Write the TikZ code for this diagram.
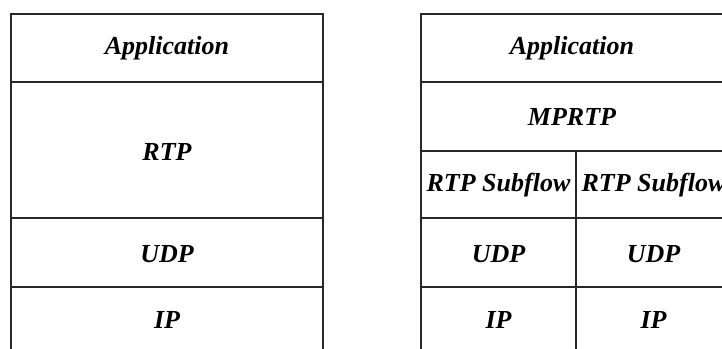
\documentclass[tikz,border=0pt]{standalone}
\usepackage{fontspec}
\setmainfont{Liberation Serif}
\tikzset{every picture/.style={line width=1.1pt}}
\tikzset{layer/.style={inner sep=0.75pt,font=\fontsize{19.5}{22}\selectfont\bfseries\itshape}}

\begin{document}
\begin{tikzpicture}[x=0.75pt,y=0.75pt,yscale=-1,xscale=1]
\useasboundingbox (0,0) rectangle (722,349);
\clip (0,0) rectangle (722,349);

%Left stack: RTP
\draw [color={rgb, 255:red, 40; green, 40; blue, 40 }] (11,352) -- (11,14) -- (323,14) -- (323,352) ;
%Straight Lines
\draw [color={rgb, 255:red, 40; green, 40; blue, 40 }] (11,82) -- (323,82) ;
\draw [color={rgb, 255:red, 40; green, 40; blue, 40 }] (11,218) -- (323,218) ;
\draw [color={rgb, 255:red, 40; green, 40; blue, 40 }] (11,287) -- (323,287) ;

%Right stack: MPRTP
\draw [color={rgb, 255:red, 40; green, 40; blue, 40 }] (421,352) -- (421,14) -- (730,14) ;
%Straight Lines
\draw [color={rgb, 255:red, 40; green, 40; blue, 40 }] (421,82) -- (730,82) ;
\draw [color={rgb, 255:red, 40; green, 40; blue, 40 }] (421,151) -- (730,151) ;
\draw [color={rgb, 255:red, 40; green, 40; blue, 40 }] (421,218) -- (730,218) ;
\draw [color={rgb, 255:red, 40; green, 40; blue, 40 }] (421,287) -- (730,287) ;
\draw [color={rgb, 255:red, 40; green, 40; blue, 40 }] (576,151) -- (576,352) ;

% Text Node
\draw (167,48) node [layer] (appL) {Application};
% Text Node
\draw (167,152) node [layer] (rtpL) {RTP};
% Text Node
\draw (167,254) node [layer] (udpL) {UDP};
% Text Node
\draw (167,320) node [layer] (ipL) {IP};
% Text Node
\draw (572,48) node [layer] (appR) {Application};
% Text Node
\draw (572,117) node [layer] (mprtp) {MPRTP};
% Text Node
\draw (498.5,185) node [layer] (subA) {RTP Subflow};
% Text Node
\draw (653.5,185) node [layer] (subB) {RTP Subflow};
% Text Node
\draw (498.5,254) node [layer] (udpA) {UDP};
% Text Node
\draw (653.5,254) node [layer] (udpB) {UDP};
% Text Node
\draw (498.5,320) node [layer] (ipA) {IP};
% Text Node
\draw (653.5,320) node [layer] (ipB) {IP};

\end{tikzpicture}
\end{document}
